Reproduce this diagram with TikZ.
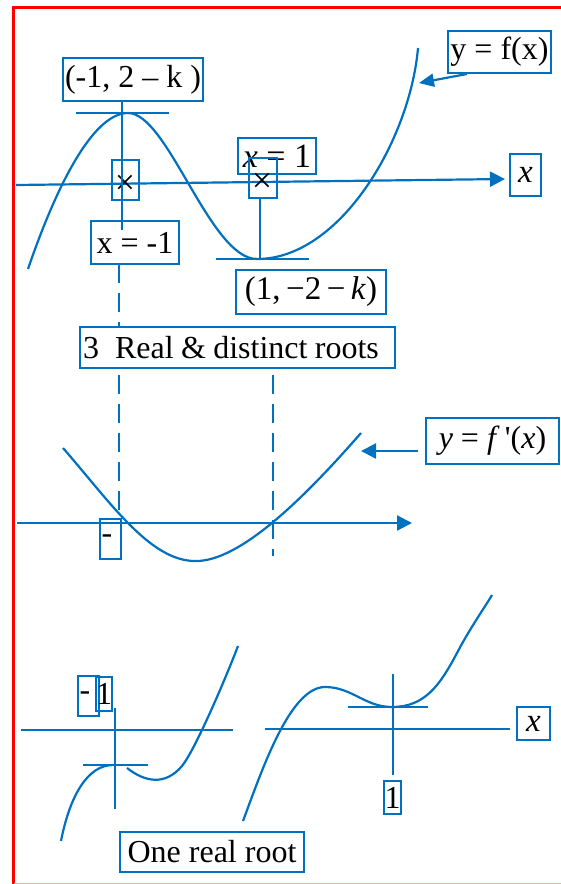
\documentclass[tikz,border=0pt]{standalone}
\usepackage{fontspec}
\setmainfont{Liberation Serif}
\usetikzlibrary{arrows.meta,calc}
\definecolor{wblue}{RGB}{0,112,192}
\begin{document}
\begin{tikzpicture}[x=1pt,y=-1pt,
  ln/.style={draw=wblue, line width=2.2pt},
  dsh/.style={ln, dash pattern=on 19pt off 10pt},
  arr/.style={ln, -{Triangle[length=15pt,width=15pt]}},
  arrs/.style={ln, -{Triangle[length=15pt,width=13pt]}},
  box/.style={draw=wblue, line width=1.9pt, inner sep=0pt, text=black,
    font=\fontsize{32}{36}\selectfont},
  crossbox/.style={draw=wblue, line width=1.9pt, inner sep=0pt},
  crossmark/.style={font=\fontsize{36}{38}\selectfont, inner sep=0pt},
  lbox/.style={box, align=left, inner xsep=1.5pt},
]
\useasboundingbox (0,0) rectangle (561,884);
% frame
\draw[red, line width=3pt] (13.5,884) -- (13.5,7.5) -- (561,7.5);
\draw[red!35, line width=1pt] (13.5,883.5) -- (561,883.5);

% ---------- top graph ----------
\coordinate (ax1s) at (16,185);
\coordinate (ax1e) at (505,179);
\draw[arr] (ax1s) -- (ax1e);
\draw[ln] (28,269) .. controls (55,190) and (92,113) .. (128,113)
  .. controls (168,113) and (210,259) .. (257,259)
  .. controls (340,259) and (410,140) .. (418,48);
\coordinate (t1a) at (76,113); \coordinate (t1b) at (169,113);
\draw[ln] (t1a) -- (t1b);
\coordinate (t2a) at (216,259); \coordinate (t2b) at (309,259);
\draw[ln] (t2a) -- (t2b);

\node[box, minimum width=140pt, minimum height=43pt] (pk) at (133,79.5) {(-1, 2 – k )};
\node[box, minimum width=103pt, minimum height=42pt] (fx) at (499.5,52) {y = f(x)};
\node[box, minimum width=78pt, minimum height=36pt, font=\fontsize{34}{38}\selectfont] (x1) at (277,156) {\textit{x} = 1};
\node[box, minimum width=88pt, minimum height=43pt] (xm1) at (135,242.5) {x = -1};
\node[box, minimum width=150pt, minimum height=44pt, font=\fontsize{33}{38}\selectfont] (mk) at (311,292) {(1,\,−2\,−\,\textit{k})};
\node[box, minimum width=31pt, minimum height=42pt, font=\fontsize{33}{38}\selectfont] (xax) at (525.5,175) {\textit{x}};

\node[crossbox, minimum width=27pt, minimum height=40pt] (c1) at (125.5,180) {};
\node[crossmark] (c1x) at (125,185) {×};
\node[crossbox, minimum width=28pt, minimum height=40pt] (c2) at (263,178) {};
\node[crossmark] (c2x) at (262,183) {×};

\coordinate (v1t) at (122,101); \coordinate (v1b) at (122,230);
\draw[ln] (v1t) -- (v1b);
\coordinate (v2t) at (260,198); \coordinate (v2b) at (260,259);
\draw[ln] (v2t) -- (v2b);

\coordinate (fxa) at (467,74); \coordinate (fxb) at (419,83);
\draw[arrs] (fxa) -- (fxb);

% ---------- middle ----------
\node[box, minimum width=315pt, minimum height=41pt] (real) at (237.5,347.5) {{\spaceskip=0.23em\relax 3\hspace{0.5em}Real \& distinct roots}\hspace*{13pt}};

\coordinate (d1a) at (119,264); \coordinate (d1b) at (119,327);
\coordinate (d1c) at (119,375); \coordinate (d1d) at (119,519);
\draw[dsh] (d1a) -- (d1b);
\draw[dsh] (d1c) -- (d1d);
\coordinate (d2a) at (273,375); \coordinate (d2b) at (273,556);
\draw[dsh] (d2a) -- (d2b);

\coordinate (ax2s) at (17,523); \coordinate (ax2e) at (412,523);
\draw[arr] (ax2s) -- (ax2e);
\draw[ln] (63,448) .. controls (110,502) and (150,561) .. (195,561)
  .. controls (240,562) and (305,497) .. (361,433);

\node[box, minimum width=133pt, minimum height=46pt] (fpx) at (492.5,441) {\textit{y} = \textit{f}\,\textquotesingle(\textit{x})};
\coordinate (fpa) at (418,451); \coordinate (fpb) at (361,451);
\draw[arr] (fpa) -- (fpb);

\node[lbox, text width=18pt, minimum height=40pt] (m1) at (110.5,539) {-};

% ---------- bottom left ----------
\coordinate (b1s) at (21,730); \coordinate (b1e) at (233,730);
\draw[ln] (b1s) -- (b1e);
\coordinate (b1t) at (115,708); \coordinate (b1b) at (115,809);
\draw[ln] (b1t) -- (b1b);
\coordinate (b1ta) at (83,765); \coordinate (b1tb) at (148,765);
\draw[ln] (b1ta) -- (b1tb);
\draw[ln] (61,841) .. controls (70,795) and (88,765) .. (113,765);
\draw[ln] (127,768) .. controls (145,782) and (165,786) .. (182,766)
  .. controls (195,750) and (225,680) .. (238,646);
\node[lbox, text width=18pt, minimum height=40pt] (m2) at (88.5,696) {-};
\node[box, minimum width=16pt, minimum height=34pt] (one1) at (104,694) {1};

% ---------- bottom right ----------
\coordinate (b2s) at (265,729); \coordinate (b2e) at (510,729);
\draw[ln] (b2s) -- (b2e);
\coordinate (b2t) at (393,674); \coordinate (b2b) at (393,775);
\draw[ln] (b2t) -- (b2b);
\coordinate (b2ta) at (348,707); \coordinate (b2tb) at (428,707);
\draw[ln] (b2ta) -- (b2tb);
\draw[ln] (243,821) .. controls (262,770) and (290,687) .. (325,687)
  .. controls (352,687) and (365,707) .. (392,707)
  .. controls (425,707) and (440,685) .. (457,653)
  .. controls (470,628) and (485,607) .. (492,595);
\node[box, minimum width=33pt, minimum height=33pt, font=\fontsize{33}{38}\selectfont] (xax2) at (533.5,723.5) {\textit{x}};
\node[box, minimum width=17pt, minimum height=33pt] (one2) at (392.5,797.5) {1};

\node[box, minimum width=184pt, minimum height=40pt] (orr) at (212,852) {One real root};
\end{tikzpicture}
\end{document}
